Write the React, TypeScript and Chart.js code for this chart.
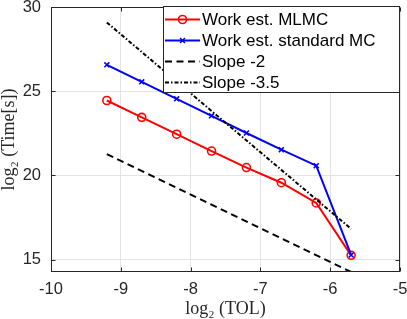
import React, { useEffect, useRef } from "react";
import { Chart, registerables } from "chart.js";

Chart.register(...registerables);

// ---- data ----
const tolLog2 = [-9.2, -8.7, -8.2, -7.7, -7.2, -6.7, -6.2, -5.7];
const mlmcWork = [24.45, 23.45, 22.45, 21.45, 20.47, 19.57, 18.37, 15.26];
const mcWork = [26.57, 25.56, 24.55, 23.54, 22.52, 21.53, 20.58, 15.28];
const slopeX = [-9.2, -5.7];
const slope2Y = [21.27, 14.27];
const slope35Y = [29.08, 16.83];
const xTicks = [-10, -9, -8, -7, -6, -5];
const yTicks = [15, 20, 25, 30];
const seriesLabels = ["Work est. MLMC", "Work est. standard MC", "Slope -2", "Slope -3.5"];

const AXIS = "#262626";
const SANS = "'Liberation Sans', Arial, sans-serif";
const SERIF = "'Liberation Serif', 'DejaVu Serif', serif";

const pts = (xs: number[], ys: number[]) => xs.map((x, i) => ({ x, y: ys[i] }));

const framePlugin = {
  id: "frame",
  afterDraw(chart: any) {
    const { ctx, chartArea, scales } = chart;
    const l = Math.round(chartArea.left) + 0.5;
    const r = Math.round(chartArea.right) - 0.5;
    const t = Math.round(chartArea.top) + 0.5;
    const b = Math.round(chartArea.bottom) - 0.5;
    ctx.save();
    ctx.strokeStyle = AXIS;
    ctx.lineWidth = 1;
    ctx.beginPath();
    const tl = 4;
    xTicks.forEach((v) => {
      const px = Math.round(scales.x.getPixelForValue(v)) + 0.5;
      ctx.moveTo(px, b);
      ctx.lineTo(px, b - tl);
      ctx.moveTo(px, t);
      ctx.lineTo(px, t + tl);
    });
    yTicks.forEach((v) => {
      const py = Math.round(scales.y.getPixelForValue(v)) + 0.5;
      ctx.moveTo(l, py);
      ctx.lineTo(l + tl, py);
      ctx.moveTo(r, py);
      ctx.lineTo(r - tl, py);
    });
    ctx.stroke();
    ctx.strokeRect(l, t, r - l, b - t);

    // legend box
    const lx = 163, ly = 6, lw = 237, lh = 87;
    ctx.fillStyle = "#ffffff";
    ctx.fillRect(lx, ly, lw, lh);
    ctx.strokeStyle = AXIS;
    ctx.strokeRect(lx + 0.5, ly + 0.5, lw - 1, lh - 1);
    const rowsY = [19.5, 40.5, 61.5, 82.5];
    chart.data.datasets.forEach((ds: any, i: number) => {
      const y = rowsY[i];
      ctx.save();
      ctx.strokeStyle = ds.borderColor;
      ctx.lineWidth = ds.borderWidth;
      ctx.setLineDash(ds.borderDash || []);
      ctx.beginPath();
      ctx.moveTo(165, y);
      ctx.lineTo(200, y);
      ctx.stroke();
      ctx.setLineDash([]);
      if (ds.pointRadius > 0) {
        ctx.lineWidth = ds.pointBorderWidth;
        ctx.beginPath();
        const cx = 182.5;
        const rr = ds.pointRadius;
        if (ds.pointStyle === "circle") {
          ctx.arc(cx, y, rr, 0, Math.PI * 2);
        } else {
          const d = rr * Math.SQRT1_2;
          ctx.moveTo(cx - d, y - d);
          ctx.lineTo(cx + d, y + d);
          ctx.moveTo(cx + d, y - d);
          ctx.lineTo(cx - d, y + d);
        }
        ctx.stroke();
      }
      ctx.fillStyle = "#000000";
      ctx.font = `17px ${SANS}`;
      ctx.textBaseline = "middle";
      ctx.textAlign = "left";
      ctx.fillText(ds.label, 202, y + 0.5);
      ctx.restore();
    });
    ctx.restore();
  },
};

export default function App() {
  const ref = useRef<HTMLCanvasElement>(null);
  useEffect(() => {
    const chart = new Chart(ref.current!, {
      type: "line",
      data: {
        datasets: [
          {
            label: seriesLabels[0],
            data: pts(tolLog2, mlmcWork),
            borderColor: "#ff0000",
            backgroundColor: "rgba(0,0,0,0)",
            borderWidth: 2,
            pointStyle: "circle",
            pointRadius: 4,
            pointBorderWidth: 1.6,
            pointBorderColor: "#ff0000",
            pointBackgroundColor: "rgba(0,0,0,0)",
            order: 3,
          },
          {
            label: seriesLabels[1],
            data: pts(tolLog2, mcWork),
            borderColor: "#0000ff",
            backgroundColor: "rgba(0,0,0,0)",
            borderWidth: 2,
            pointStyle: "crossRot",
            pointRadius: 3.5,
            pointBorderWidth: 1.6,
            pointBorderColor: "#0000ff",
            order: 2,
          },
          {
            label: seriesLabels[2],
            data: pts(slopeX, slope2Y),
            borderColor: "#000000",
            borderWidth: 2,
            borderDash: [7, 4.5],
            pointRadius: 0,
            order: 1,
          },
          {
            label: seriesLabels[3],
            data: pts(slopeX, slope35Y),
            borderColor: "#000000",
            borderWidth: 2,
            borderDash: [4, 2, 1.5, 2],
            pointRadius: 0,
            order: 0,
          },
        ] as any,
      },
      options: {
        responsive: false,
        devicePixelRatio: 1,
        animation: false,
        layout: { padding: { left: 0, right: 7, top: 7, bottom: 0 } },
        plugins: { legend: { display: false }, tooltip: { enabled: false } },
        scales: {
          x: {
            type: "linear",
            min: -10,
            max: -5,
            afterBuildTicks: (s: any) => {
              s.ticks = xTicks.map((value) => ({ value }));
            },
            afterFit: (s: any) => {
              s.height = 47;
              s.paddingLeft = 0;
              s.paddingRight = 0;
            },
            grid: { color: "#e3e3e3", lineWidth: 1, drawTicks: false },
            border: { display: false },
            ticks: {
              padding: 8,
              color: AXIS,
              font: { family: SANS, size: 16.5 },
              maxRotation: 0,
            },
            title: {
              display: true,
              text: "log₂ (TOL)",
              color: AXIS,
              font: { family: SERIF, size: 18 },
              padding: { top: 0, bottom: -1 },
            },
          },
          y: {
            type: "linear",
            min: 14.27,
            max: 30,
            afterBuildTicks: (s: any) => {
              s.ticks = yTicks.map((value) => ({ value }));
            },
            afterFit: (s: any) => {
              s.width = 51;
              s.paddingTop = 0;
              s.paddingBottom = 0;
            },
            grid: { color: "#e3e3e3", lineWidth: 1, drawTicks: false },
            border: { display: false },
            ticks: {
              padding: 10,
              color: AXIS,
              font: { family: SANS, size: 16.5 },
            },
            title: {
              display: true,
              text: "log₂ (Time[s])",
              color: AXIS,
              font: { family: SERIF, size: 18 },
              padding: { top: -2, bottom: 0 },
            },
          },
        },
      },
      plugins: [framePlugin],
    } as any);
    return () => chart.destroy();
  }, []);
  return (
    <div style={{ position: "fixed", left: 0, top: 0, width: 407, height: 319 }}>
      <canvas ref={ref} width={407} height={319} style={{ width: 407, height: 319, display: "block" }} />
    </div>
  );
}
